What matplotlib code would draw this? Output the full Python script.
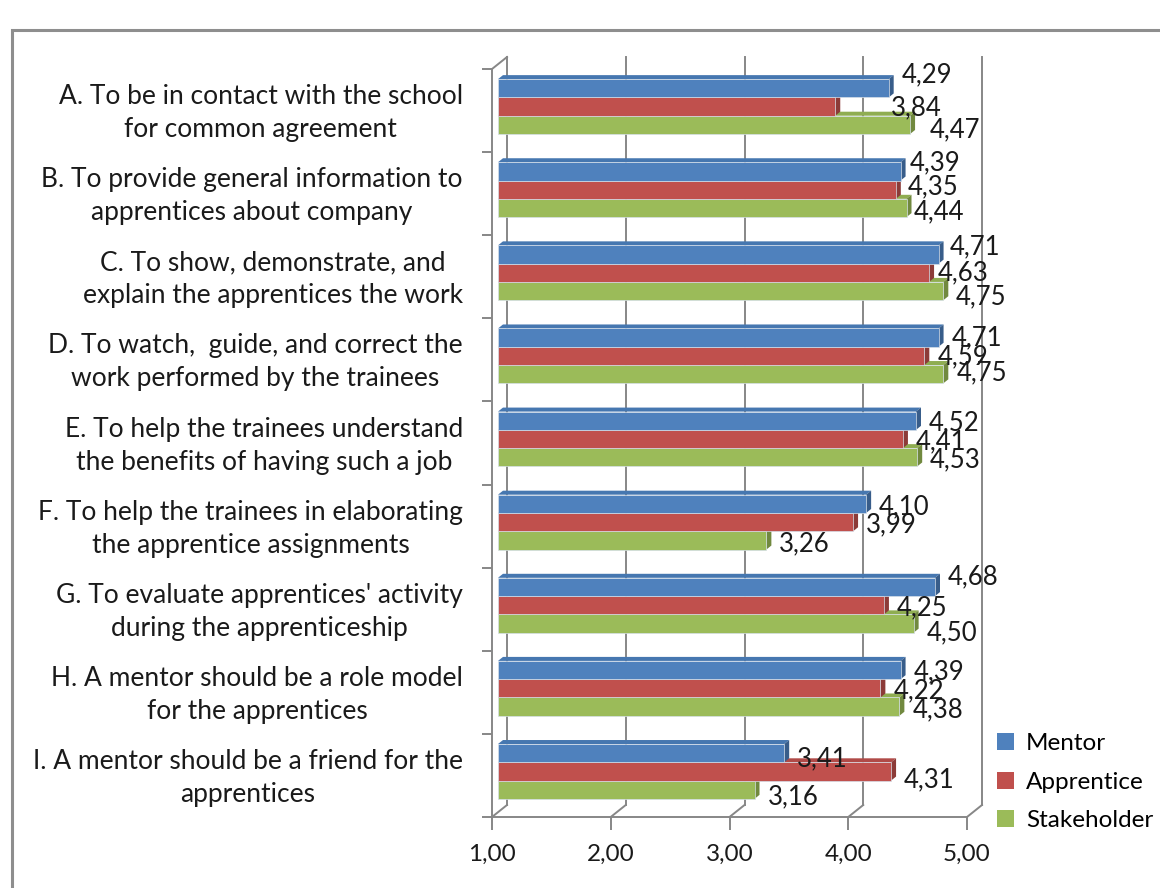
import numpy as np
import matplotlib
matplotlib.use("Agg")
import matplotlib.pyplot as plt
from matplotlib.patches import Polygon, Rectangle, Patch

# survey means per activity (scale 1-5)
categories = [
    "A. To be in contact with the school\nfor common agreement",
    "B. To provide general information to\napprentices about company",
    "C. To show, demonstrate, and\nexplain the apprentices the work",
    "D. To watch,  guide, and correct the\nwork performed by the trainees",
    "E. To help the trainees understand\nthe benefits of having such a job",
    "F. To help the trainees in elaborating\nthe apprentice assignments",
    "G. To evaluate apprentices' activity\nduring the apprenticeship",
    "H. A mentor should be a role model\nfor the apprentices",
    "I. A mentor should be a friend for the\napprentices",
]
series_names = ["Mentor", "Apprentice", "Stakeholder"]
mentor = [4.29, 4.39, 4.71, 4.71, 4.52, 4.10, 4.68, 4.39, 3.41]
apprentice = [3.84, 4.35, 4.63, 4.59, 4.41, 3.99, 4.25, 4.22, 4.31]
stakeholder = [4.47, 4.44, 4.75, 4.75, 4.53, 3.26, 4.50, 4.38, 3.16]
xticks = [1, 2, 3, 4, 5]
xtick_labels = ["1,00", "2,00", "3,00", "4,00", "5,00"]

# label nudges in pixels (dx, dy down), per group: mentor, apprentice, stakeholder
label_nudge = [
    [(0, -16), (43, -2), (7, 2)],
    [(-4, -12), (-1, -6), (-6, 1)],
    [(-2, -11), (-4, -3), (-1, 3)],
    [(0, -3), (0, -2), (0, -4)],
    [(0, -1), (0, 0), (0, 0)],
    [(0, 0), (0, 0), (0, 0)],
    [(0, -13), (0, 0), (0, 6)],
    [(0, -1), (0, -1), (0, 0)],
    [(0, 3), (0, 5), (0, 4)],
]

front = ["#4F81BD", "#C0504D", "#9BBB59"]
side = ["#385D8A", "#8C3B38", "#71893F"]
top = ["#4677B0", "#B04A47", "#8FAD51"]
grid_c = "#878787"
txt_c = "#1a1a1a"
font = "Lato"
fs_cat = 19
fs_num = 18.5
fs_tick = 17.5
fs_leg = 17.5

W, H = 1160, 888
fig = plt.figure(figsize=(W / 100, H / 100), dpi=100)
plt.rcParams["font.family"] = [font, "DejaVu Sans"]

# front plane of the plot area in pixels
L, R, T, B = 492, 967, 69, 817
ax = fig.add_axes([L / W, 1 - B / H, (R - L) / W, (B - T) / H])
n = len(categories)
ax.set_xlim(1, 5)
ax.set_ylim(n, 0)
ppx = (R - L) / 4.0
ppy = (B - T) / n

# depth of the wall and of the bars (pixels -> data units)
wdx, wdy = 15 / ppx, 12 / ppy
bx, by = 6 / ppx, 4 / ppy
sx, sy = 5 / ppx, 4 / ppy

# back wall gridlines + floor edges
for xv in xticks:
    ax.plot([xv + wdx, xv + wdx], [0 - wdy, n - wdy], color=grid_c, lw=1.4,
            zorder=1, clip_on=False)
    ax.plot([xv, xv + wdx], [n, n - wdy], color=grid_c, lw=1.4, zorder=1,
            clip_on=False)
ax.plot([1, 1 + wdx], [0, -wdy], color=grid_c, lw=1.4, zorder=1, clip_on=False)

# bars with a little 3d look
h = 0.22
centers = np.arange(n) + 0.5
data = [mentor, apprentice, stakeholder]
for s in [2, 1, 0]:
    vals = np.array(data[s])
    yc = centers + (s - 1) * h - by
    ax.barh(yc, vals - 1, left=1 + bx, height=h, color=front[s],
            edgecolor="#d6dfe9", linewidth=0.5, zorder=3 + (2 - s) * 3 + 1)
    for i, v in enumerate(vals):
        t0, b0 = yc[i] - h / 2, yc[i] + h / 2
        x1 = v + bx
        topf = Polygon([(1 + bx, t0), (1 + bx + sx, t0 - sy), (x1 + sx, t0 - sy), (x1, t0)],
                       closed=True, facecolor=top[s], edgecolor="none",
                       zorder=3 + (2 - s) * 3, clip_on=False)
        sidef = Polygon([(x1, t0), (x1 + sx, t0 - sy), (x1 + sx, b0 - sy), (x1, b0)],
                        closed=True, facecolor=side[s], edgecolor="none",
                        zorder=3 + (2 - s) * 3, clip_on=False)
        ax.add_patch(topf)
        ax.add_patch(sidef)

# value labels
for s in range(3):
    vals = data[s]
    for i, v in enumerate(vals):
        dxp, dyp = label_nudge[i][s]
        yc = centers[i] + (s - 1) * h - by
        ax.text(v + bx + sx + (8 + dxp) / ppx, yc + (3 + dyp) / ppy,
                ("%.2f" % v).replace(".", ","), ha="left", va="center",
                fontsize=fs_num, color=txt_c, zorder=20, clip_on=False)

# axes, ticks
for sp in ["top", "right"]:
    ax.spines[sp].set_visible(False)
for sp in ["left", "bottom"]:
    ax.spines[sp].set_color(grid_c)
    ax.spines[sp].set_linewidth(1.4)
ax.set_facecolor("none")
ax.set_xticks(xticks)
ax.set_xticklabels(xtick_labels, fontsize=fs_tick, color=txt_c)
ax.tick_params(axis="x", direction="out", length=9.5, width=1.4, color=grid_c, pad=10)
ax.set_yticks(np.arange(n + 1))
ax.set_yticklabels([])
ax.tick_params(axis="y", which="major", direction="out", length=7.5, width=1.4,
               color=grid_c)
ax.set_yticks(centers - 4 / ppy, minor=True)
ax.set_yticklabels(categories, minor=True, fontsize=fs_cat, color=txt_c,
                   linespacing=1.4)
ax.tick_params(axis="y", which="minor", length=0, pad=21)
for t in ax.get_yticklabels(minor=True):
    t.set_multialignment("center")

# legend
handles = [Patch(facecolor=front[s], edgecolor="none") for s in range(3)]
fig.legend(handles, series_names, loc="upper left",
           bbox_to_anchor=(980 / W, 1 - 716 / H), frameon=False, fontsize=fs_leg,
           handlelength=0.7, handleheight=0.7, handletextpad=0.5,
           labelspacing=0.72, borderpad=0.2)

# outer frame of the chart object
fig.add_artist(Rectangle((12 / W, -0.1), 1.2, 1.1 - 30 / H, transform=fig.transFigure,
                         fill=False, edgecolor="#8e8e8e", linewidth=2.2))

fig.savefig("out.png", dpi=100)
